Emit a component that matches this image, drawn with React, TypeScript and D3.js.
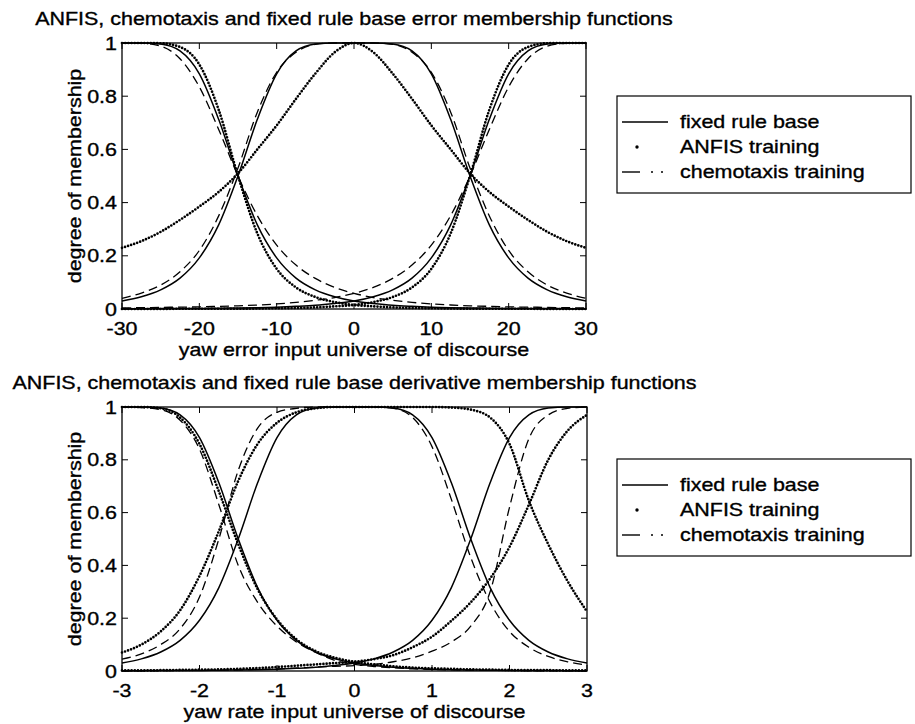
import React from "react";
import * as d3 from "d3";

// yaw error panel, x step 2.5
const errorX = [-30, -27.5, -25, -22.5, -20, -17.5, -15, -12.5, -10, -7.5, -5, -2.5, 0, 2.5, 5, 7.5, 10, 12.5, 15, 17.5, 20, 22.5, 25, 27.5, 30];
const errFixedN = [1, 1, 0.996, 0.97, 0.884, 0.713, 0.5, 0.316, 0.192, 0.116, 0.072, 0.046, 0.03, 0.021, 0.014, 0.01, 0.007, 0.005, 0.004, 0.003, 0.002, 0.002, 0.002, 0.001, 0.001];
const errFixedZ = [0.03, 0.046, 0.072, 0.116, 0.192, 0.316, 0.5, 0.713, 0.884, 0.97, 0.996, 1, 1, 1, 0.996, 0.97, 0.884, 0.713, 0.5, 0.316, 0.192, 0.116, 0.072, 0.046, 0.03];
const errFixedP = [0.001, 0.001, 0.002, 0.002, 0.002, 0.003, 0.004, 0.005, 0.007, 0.01, 0.014, 0.021, 0.03, 0.046, 0.072, 0.116, 0.192, 0.316, 0.5, 0.713, 0.884, 0.97, 0.996, 1, 1];
const errAnfisN = [1, 1, 0.999, 0.985, 0.919, 0.749, 0.5, 0.284, 0.151, 0.081, 0.045, 0.026, 0.015, 0.01, 0.006, 0.004, 0.003, 0.002, 0.001, 0.001, 0.001, 0.001, 0, 0, 0];
const errAnfisZ = [0.23, 0.255, 0.29, 0.335, 0.385, 0.44, 0.51, 0.6, 0.69, 0.79, 0.885, 0.965, 1, 0.965, 0.885, 0.79, 0.69, 0.6, 0.51, 0.44, 0.385, 0.335, 0.29, 0.255, 0.23];
const errAnfisP = [0, 0, 0, 0.001, 0.001, 0.001, 0.001, 0.002, 0.003, 0.004, 0.006, 0.01, 0.015, 0.026, 0.045, 0.081, 0.151, 0.284, 0.5, 0.749, 0.919, 0.985, 0.999, 1, 1];
const errChemoN = [1, 0.999, 0.988, 0.941, 0.835, 0.675, 0.5, 0.351, 0.24, 0.165, 0.115, 0.081, 0.059, 0.043, 0.033, 0.025, 0.019, 0.015, 0.012, 0.01, 0.008, 0.007, 0.006, 0.005, 0.004];
const errChemoZ = [0.04, 0.06, 0.09, 0.14, 0.22, 0.35, 0.53, 0.74, 0.89, 0.965, 0.995, 1, 1, 1, 0.995, 0.965, 0.89, 0.74, 0.53, 0.35, 0.22, 0.14, 0.09, 0.06, 0.04];
const errChemoP = [0.004, 0.005, 0.006, 0.007, 0.008, 0.01, 0.012, 0.015, 0.019, 0.025, 0.033, 0.043, 0.059, 0.081, 0.115, 0.165, 0.24, 0.351, 0.5, 0.675, 0.835, 0.941, 0.988, 0.999, 1];

// yaw rate panel, x step 0.25
const rateX = [-3, -2.75, -2.5, -2.25, -2, -1.75, -1.5, -1.25, -1, -0.75, -0.5, -0.25, 0, 0.25, 0.5, 0.75, 1, 1.25, 1.5, 1.75, 2, 2.25, 2.5, 2.75, 3];
const rateFixedN = [1, 1, 0.996, 0.97, 0.884, 0.713, 0.5, 0.316, 0.192, 0.116, 0.072, 0.046, 0.03, 0.021, 0.014, 0.01, 0.007, 0.005, 0.004, 0.003, 0.002, 0.002, 0.002, 0.001, 0.001];
const rateFixedZ = [0.03, 0.046, 0.072, 0.116, 0.192, 0.316, 0.5, 0.713, 0.884, 0.97, 0.996, 1, 1, 1, 0.996, 0.97, 0.884, 0.713, 0.5, 0.316, 0.192, 0.116, 0.072, 0.046, 0.03];
const rateFixedP = [0.001, 0.001, 0.002, 0.002, 0.002, 0.003, 0.004, 0.005, 0.007, 0.01, 0.014, 0.021, 0.03, 0.046, 0.072, 0.116, 0.192, 0.316, 0.5, 0.713, 0.884, 0.97, 0.996, 1, 1];
const rateAnfisN = [1, 1, 0.995, 0.96, 0.86, 0.68, 0.48, 0.31, 0.195, 0.12, 0.075, 0.05, 0.035, 0.025, 0.018, 0.013, 0.01, 0.008, 0.006, 0.005, 0.004, 0.003, 0.003, 0.002, 0.002];
const rateAnfisZ = [0.07, 0.1, 0.15, 0.23, 0.36, 0.53, 0.72, 0.86, 0.94, 0.98, 0.995, 1, 1, 1, 1, 1, 1, 0.998, 0.99, 0.96, 0.86, 0.645, 0.48, 0.34, 0.225];
const rateAnfisP = [0.002, 0.002, 0.003, 0.004, 0.005, 0.006, 0.008, 0.011, 0.015, 0.02, 0.025, 0.03, 0.035, 0.045, 0.06, 0.09, 0.13, 0.19, 0.26, 0.35, 0.47, 0.63, 0.8, 0.91, 0.97];
const rateChemoN = [1, 0.998, 0.99, 0.95, 0.84, 0.63, 0.4, 0.26, 0.17, 0.11, 0.07, 0.04, 0.025, 0.017, 0.012, 0.008, 0.006, 0.004, 0.003, 0.002, 0.002, 0.001, 0.001, 0.001, 0.001];
const rateChemoZ = [0.045, 0.065, 0.1, 0.16, 0.28, 0.5, 0.76, 0.92, 0.98, 0.995, 1, 1, 1, 1, 0.995, 0.96, 0.85, 0.65, 0.43, 0.26, 0.15, 0.09, 0.055, 0.035, 0.022];
const rateChemoP = [0.001, 0.001, 0.001, 0.002, 0.002, 0.003, 0.004, 0.006, 0.008, 0.011, 0.015, 0.018, 0.02, 0.025, 0.035, 0.05, 0.075, 0.11, 0.17, 0.3, 0.62, 0.88, 0.97, 0.995, 1];

const legendLabels = ["fixed rule base", "ANFIS training", "chemotaxis training"];

const FONT = "'Liberation Sans', Arial, Helvetica, sans-serif";
const FS = 18.5;
// the scanned lettering is wider than it is tall
const SX = 1.16;

type Kind = "fixed" | "anfis" | "chemo";

const lineStyle = (kind: Kind) => {
    if (kind === "anfis") return { strokeWidth: 2.7, strokeDasharray: "0 3.2", strokeLinecap: "round" as const };
    if (kind === "chemo") return { strokeWidth: 1.3, strokeDasharray: "9 5", strokeLinecap: "butt" as const };
    return { strokeWidth: 1.5, strokeDasharray: undefined, strokeLinecap: "butt" as const };
};

const Txt = ({ x, y, children, anchor = "start", rotate = 0, dy = undefined }) => (
    <text
        transform={`translate(${x}, ${y}) rotate(${rotate}) scale(${SX}, 1)`}
        textAnchor={anchor}
        dy={dy}
        fontSize={FS}
        fontFamily={FONT}
        fill="black"
        stroke="black"
        strokeWidth={0.35}
    >
        {children}
    </text>
);

const Legend = ({ x, y, w, h }) => {
    const rows = [0, 1, 2];
    return (
        <g>
            <rect x={x} y={y} width={w} height={h} fill="white" stroke="black" strokeWidth={1.2} />
            {rows.map(i => {
                const base = y + 32 + i * 25;
                const ly = base - 6;
                return (
                    <g key={'lg' + i}>
                        {i === 0 && <line x1={x + 5} x2={x + 51} y1={ly} y2={ly} stroke="black" strokeWidth={1.4} />}
                        {i === 1 && <circle cx={x + 20} cy={ly} r={1.7} fill="black" />}
                        {i === 2 && (
                            <>
                                <line x1={x + 5} x2={x + 23} y1={ly} y2={ly} stroke="black" strokeWidth={1.4} />
                                <circle cx={x + 35} cy={ly} r={1} fill="black" />
                                <circle cx={x + 45} cy={ly} r={1} fill="black" />
                            </>
                        )}
                        <Txt x={x + 63} y={base}>{legendLabels[i]}</Txt>
                    </g>
                );
            })}
        </g>
    );
};

const Panel = ({ xs, curves, domain, left, right, top, bottom, title, xLabel, legendY }) => {
    const x = d3.scaleLinear().domain(domain).range([left, right]);
    const y = d3.scaleLinear().domain([0, 1]).range([bottom, top]);
    const line = d3.line<number>()
        .x((d, i) => x(xs[i]))
        .y(d => y(d))
        .curve(d3.curveMonotoneX);
    const xt = x.ticks(6);
    const yt = y.ticks(5);
    const cx = (left + right) / 2;
    const tl = 6;

    return (
        <g>
            <Txt x={cx} y={top - 18} anchor="middle">{title}</Txt>
            {curves.map((c, i) => {
                const s = lineStyle(c.kind);
                return (
                    <path key={'c' + i} d={line(c.values)} fill="none" stroke="black"
                        strokeWidth={s.strokeWidth} strokeDasharray={s.strokeDasharray} strokeLinecap={s.strokeLinecap} />
                );
            })}
            <rect x={left} y={top} width={right - left} height={bottom - top} fill="none" stroke="black" strokeWidth={1.3} />
            {xt.map(t => (
                <g key={'xt' + t}>
                    <line x1={x(t)} x2={x(t)} y1={bottom} y2={bottom - tl} stroke="black" />
                    <line x1={x(t)} x2={x(t)} y1={top} y2={top + tl} stroke="black" />
                    <Txt x={x(t)} y={bottom + 26} anchor="middle">{String(t)}</Txt>
                </g>
            ))}
            {yt.map(t => (
                <g key={'yt' + t}>
                    <line x1={left} x2={left + tl} y1={y(t)} y2={y(t)} stroke="black" />
                    <line x1={right} x2={right - tl} y1={y(t)} y2={y(t)} stroke="black" />
                    <Txt x={left - 5} y={y(t)} dy="0.36em" anchor="end">{String(t)}</Txt>
                </g>
            ))}
            <Txt x={cx} y={bottom + 47} anchor="middle">{xLabel}</Txt>
            <Txt x={left - 41} y={(top + bottom) / 2} anchor="middle" rotate={-90}>degree of membership</Txt>
            <Legend x={617} y={legendY} w={294} h={97} />
        </g>
    );
};

const errorCurves = [
    { values: errFixedN, kind: "fixed" }, { values: errFixedZ, kind: "fixed" }, { values: errFixedP, kind: "fixed" },
    { values: errChemoN, kind: "chemo" }, { values: errChemoZ, kind: "chemo" }, { values: errChemoP, kind: "chemo" },
    { values: errAnfisN, kind: "anfis" }, { values: errAnfisZ, kind: "anfis" }, { values: errAnfisP, kind: "anfis" },
];

const rateCurves = [
    { values: rateFixedN, kind: "fixed" }, { values: rateFixedZ, kind: "fixed" }, { values: rateFixedP, kind: "fixed" },
    { values: rateChemoN, kind: "chemo" }, { values: rateChemoZ, kind: "chemo" }, { values: rateChemoP, kind: "chemo" },
    { values: rateAnfisN, kind: "anfis" }, { values: rateAnfisZ, kind: "anfis" }, { values: rateAnfisP, kind: "anfis" },
];

export default function App() {
    return (
        <svg width={915} height={724} style={{ position: "absolute", left: 0, top: 0, background: "white" }}>
            <Panel xs={errorX} curves={errorCurves} domain={[-30, 30]} left={122} right={586} top={43} bottom={309}
                title="ANFIS, chemotaxis and fixed rule base error membership functions"
                xLabel="yaw error input universe of discourse" legendY={96} />
            <Panel xs={rateX} curves={rateCurves} domain={[-3, 3]} left={122} right={587} top={407} bottom={671}
                title="ANFIS, chemotaxis and fixed rule base derivative membership functions"
                xLabel="yaw rate input universe of discourse" legendY={459} />
        </svg>
    );
}
